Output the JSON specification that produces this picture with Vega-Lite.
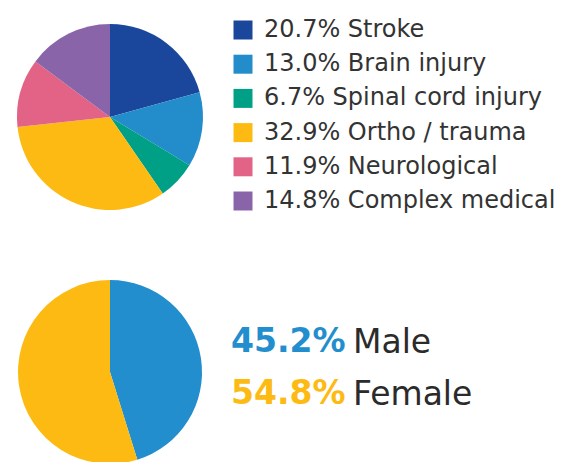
{
  "$schema": "https://vega.github.io/schema/vega-lite/v6.json",
  "padding": {"left": 17, "top": 16, "right": 0, "bottom": 0},
  "background": "white",
  "config": {"view": {"stroke": null}, "font": "DejaVu Sans"},
  "resolve": {"scale": {"color": "independent"}, "legend": {"color": "independent"}},
  "spacing": 61,
  "vconcat": [
    {
      "width": 186,
      "height": 202,
      "data": {"values": [
        {"rank": 1, "category": "Stroke", "share": 20.7, "label": "20.7% Stroke"},
        {"rank": 2, "category": "Brain injury", "share": 13.0, "label": "13.0% Brain injury"},
        {"rank": 3, "category": "Spinal cord injury", "share": 6.7, "label": "6.7% Spinal cord injury"},
        {"rank": 4, "category": "Ortho / trauma", "share": 32.9, "label": "32.9% Ortho / trauma"},
        {"rank": 5, "category": "Neurological", "share": 11.9, "label": "11.9% Neurological"},
        {"rank": 6, "category": "Complex medical", "share": 14.8, "label": "14.8% Complex medical"}
      ]},
      "mark": {"type": "arc", "outerRadius": 93},
      "encoding": {
        "theta": {"field": "share", "type": "quantitative", "stack": true},
        "order": {"field": "rank", "type": "quantitative"},
        "color": {
          "field": "label",
          "type": "nominal",
          "scale": {
            "domain": ["20.7% Stroke", "13.0% Brain injury", "6.7% Spinal cord injury", "32.9% Ortho / trauma", "11.9% Neurological", "14.8% Complex medical"],
            "range": ["#1a479c", "#238ccb", "#00a086", "#fdba12", "#e26386", "#8a64a9"]
          },
          "legend": {
            "title": null,
            "orient": "none",
            "legendX": 214,
            "legendY": 2,
            "padding": 0,
            "symbolType": "square",
            "symbolSize": 361,
            "symbolStrokeWidth": 0,
            "labelFontSize": 24,
            "labelFont": "DejaVu Sans",
            "labelColor": "#333333",
            "labelOffset": 9,
            "labelLimit": 400,
            "rowPadding": 10.2
          }
        }
      }
    },
    {
      "spacing": 28,
      "data": {"values": [
        {"rank": 1, "gender": "Male", "share": 0.452},
        {"rank": 2, "gender": "Female", "share": 0.548}
      ]},
      "hconcat": [
        {
          "width": 186,
          "height": 186,
          "mark": {"type": "arc", "outerRadius": 92},
          "encoding": {
            "theta": {"field": "share", "type": "quantitative", "stack": true},
            "order": {"field": "rank", "type": "quantitative"},
            "color": {
              "field": "gender",
              "type": "nominal",
              "scale": {"domain": ["Male", "Female"], "range": ["#238ecd", "#fdba12"]},
              "legend": null
            }
          }
        },
        {
          "width": 260,
          "height": 186,
          "encoding": {
            "y": {
              "field": "gender",
              "type": "nominal",
              "scale": {"type": "band", "domain": ["Male", "Female"], "paddingInner": 0, "paddingOuter": 0.788},
              "axis": null
            }
          },
          "layer": [
            {
              "mark": {"type": "text", "align": "left", "baseline": "middle", "fontSize": 33, "fontWeight": "bold", "font": "DejaVu Sans", "dy": -4},
              "encoding": {
                "x": {"value": 0},
                "text": {"field": "share", "type": "quantitative", "format": ".1%"},
                "color": {
                  "field": "gender",
                  "type": "nominal",
                  "scale": {"domain": ["Male", "Female"], "range": ["#238ecd", "#fdba12"]},
                  "legend": null
                }
              }
            },
            {
              "mark": {"type": "text", "align": "left", "baseline": "middle", "fontSize": 33, "font": "DejaVu Sans", "dx": 122, "dy": -3, "color": "#2b2b2b"},
              "encoding": {
                "x": {"value": 0},
                "text": {"field": "gender", "type": "nominal"}
              }
            }
          ]
        }
      ]
    }
  ]
}
